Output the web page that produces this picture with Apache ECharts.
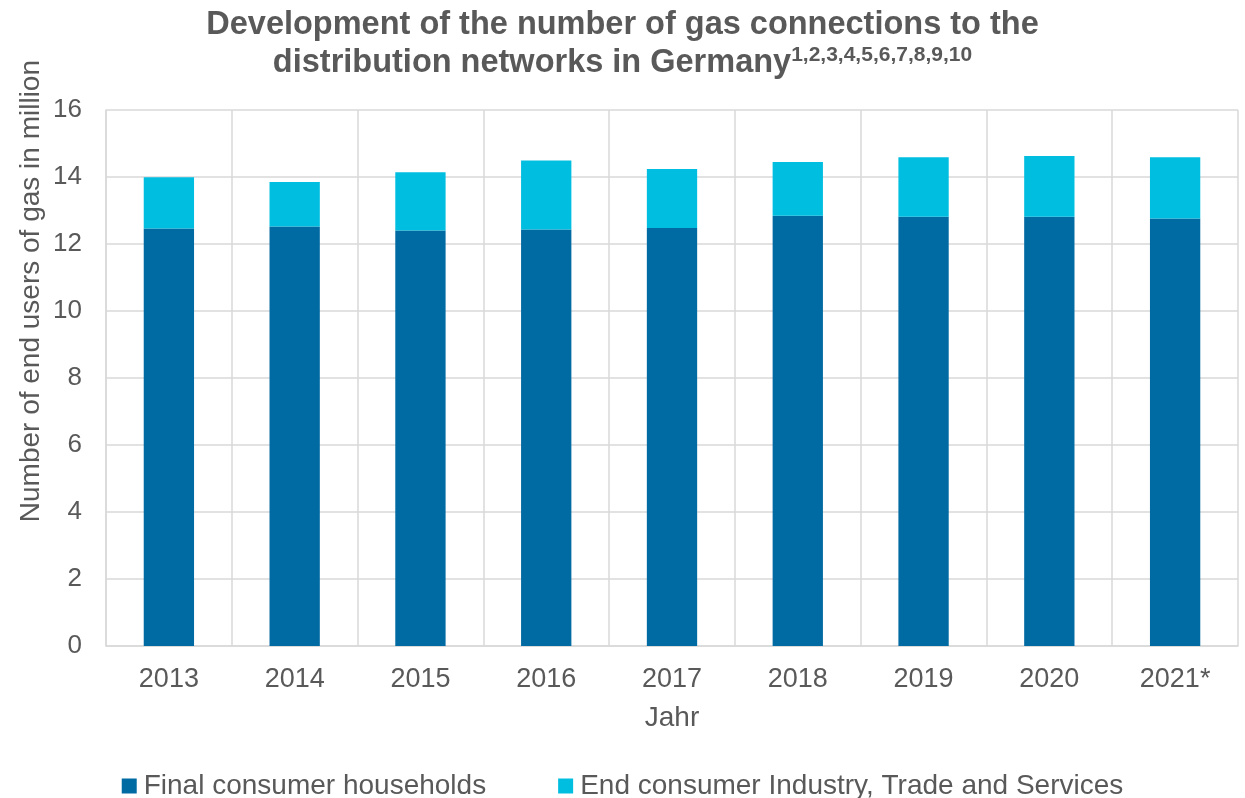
<!DOCTYPE html>
<html>
<head>
<meta charset="utf-8">
<script src="https://cdn.jsdelivr.net/npm/echarts@6/dist/echarts.min.js"></script>
<style>
  html, body { margin: 0; padding: 0; background: #fff; }
  #chart { width: 1245px; height: 798px; }
</style>
</head>
<body>
<div id="chart"></div>
<script>
// Gas connections to distribution networks in Germany, millions of end users
const years = ['2013', '2014', '2015', '2016', '2017', '2018', '2019', '2020', '2021*'];
const households = [12.46, 12.52, 12.40, 12.43, 12.48, 12.84, 12.81, 12.81, 12.76];
const industry = [1.53, 1.33, 1.74, 2.06, 1.76, 1.61, 1.78, 1.82, 1.83];
const yTicks = [0, 2, 4, 6, 8, 10, 12, 14, 16];

const textColor = '#595959';
const gridColor = '#d9d9d9';
const fontFamily = '"Liberation Sans", Arial, sans-serif';

const chart = echarts.init(document.getElementById('chart'));
chart.setOption({
  animation: false,
  textStyle: { fontFamily: fontFamily },
  title: {
    text: '{t|Development of the number of gas connections to the}\n{t|distribution networks in Germany}{s|1,2,3,4,5,6,7,8,9,10}',
    left: 'center',
    top: 1,
    textStyle: {
      rich: {
        t: { fontSize: 32.5, fontWeight: 'bold', color: textColor, fontFamily: fontFamily, lineHeight: 38 },
        s: { fontSize: 21, fontWeight: 'bold', color: textColor, fontFamily: fontFamily, lineHeight: 38, padding: [0, 0, 16, 0] }
      }
    }
  },
  legend: {
    top: 767,
    left: 'center',
    itemWidth: 15,
    itemHeight: 15,
    itemGap: 72,
    icon: 'rect',
    textStyle: { fontSize: 28, color: textColor, fontFamily: fontFamily, padding: [0, 0, 0, 2] },
    data: ['Final consumer households', 'End consumer Industry, Trade and Services']
  },
  grid: { left: 106, right: 7, top: 110, bottom: 152, containLabel: false },
  xAxis: {
    type: 'category',
    data: years,
    name: 'Jahr',
    nameLocation: 'middle',
    nameGap: 58,
    nameTextStyle: { fontSize: 28, color: textColor, verticalAlign: 'top' },
    axisLine: { show: true, lineStyle: { color: gridColor, width: 1.5 } },
    axisTick: { show: false },
    axisLabel: { fontSize: 27, color: textColor, margin: 20 },
    splitLine: { show: true, lineStyle: { color: gridColor, width: 1.5 } }
  },
  yAxis: {
    type: 'value',
    min: yTicks[0],
    max: yTicks[yTicks.length - 1],
    interval: 2,
    axisLine: { show: true, lineStyle: { color: gridColor, width: 1.5 } },
    axisTick: { show: false },
    axisLabel: { fontSize: 26, color: textColor, margin: 24 },
    splitLine: { show: true, lineStyle: { color: gridColor, width: 1.5 } }
  },
  graphic: [{
    type: 'text',
    left: 17,
    top: 60,
    rotation: Math.PI / 2,
    style: {
      text: 'Number of end users of gas in million',
      fontSize: 28,
      fill: textColor,
      fontFamily: fontFamily
    }
  }],
  series: [
    {
      name: 'Final consumer households',
      type: 'bar',
      stack: 'total',
      barWidth: '40%',
      itemStyle: { color: '#006aa3' },
      data: households
    },
    {
      name: 'End consumer Industry, Trade and Services',
      type: 'bar',
      stack: 'total',
      barWidth: '40%',
      itemStyle: { color: '#00bee0' },
      data: industry
    }
  ]
});
</script>
</body>
</html>
